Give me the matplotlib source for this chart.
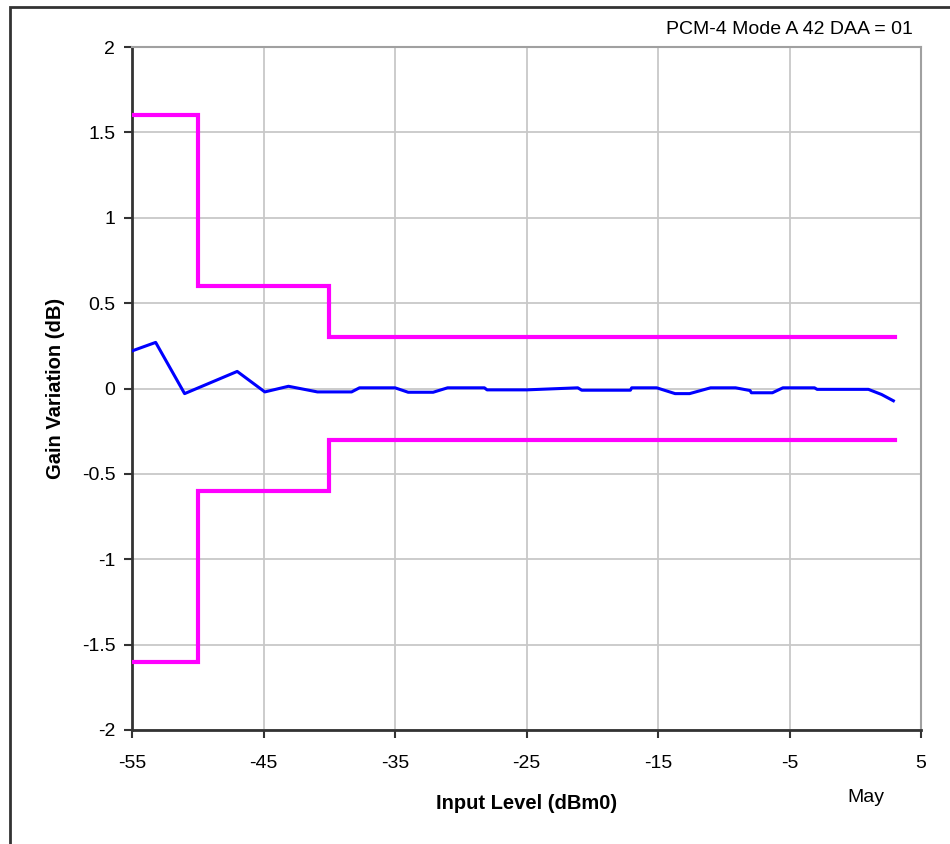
# Gain variation vs input level, PCM-4 Mode A 42 (DAA = 01)
import matplotlib
matplotlib.use("Agg")
import matplotlib.pyplot as plt
from matplotlib.patches import Rectangle

plt.rcParams["font.family"] = ["Liberation Sans", "DejaVu Sans"]

# --- data ---
level_db = [-55, -53.2, -51.0, -47.0, -44.9, -43.1, -40.9, -38.3, -37.7, -35.0,
            -34.0, -32.1, -31.0, -28.2, -28.0, -25.0, -21.1, -20.8, -17.1, -17.0,
            -15.1, -13.7, -12.6, -11.0, -9.1, -8.0, -7.9, -6.3, -5.5, -3.1,
            -2.9, 1.0, 2.0, 2.9]
gain_db = [0.22, 0.27, -0.03, 0.10, -0.02, 0.013, -0.02, -0.02, 0.004, 0.004,
           -0.022, -0.022, 0.004, 0.004, -0.008, -0.008, 0.004, -0.01, -0.01, 0.004,
           0.004, -0.03, -0.03, 0.004, 0.004, -0.012, -0.025, -0.025, 0.004, 0.004,
           -0.005, -0.005, -0.035, -0.072]

mask_x = [-55, -50, -50, -40, -40, 3]
mask_upper = [1.6, 1.6, 0.6, 0.6, 0.3, 0.3]
mask_lower = [-1.6, -1.6, -0.6, -0.6, -0.3, -0.3]

x_ticks = [-55, -45, -35, -25, -15, -5, 5]
y_ticks = [-2, -1.5, -1, -0.5, 0, 0.5, 1, 1.5, 2]
y_tick_labels = ["-2", "-1.5", "-1", "-0.5", "0", "0.5", "1", "1.5", "2"]

# --- figure ---
fig = plt.figure(figsize=(9.5, 8.44), dpi=100)
fig.patches.append(Rectangle((10 / 950, -0.1), 1.2, 1.1 - 7 / 844,
                             transform=fig.transFigure, fill=False,
                             edgecolor="#333333", linewidth=2))
ax = fig.add_axes([132 / 950, 1 - 730 / 844, 789 / 950, 683 / 844])

ax.plot(mask_x, mask_upper, color="#ff00ff", lw=3, solid_joinstyle="miter", zorder=3)
ax.plot(mask_x, mask_lower, color="#ff00ff", lw=3, solid_joinstyle="miter", zorder=3)
ax.plot(level_db, gain_db, color="#0000ff", lw=2.2, zorder=4)

ax.set_xlim(-55, 5)
ax.set_ylim(-2, 2)
ax.set_xticks(x_ticks)
ax.set_xticklabels([str(t) for t in x_ticks])
ax.set_yticks(y_ticks)
ax.set_yticklabels(y_tick_labels)
ax.tick_params(direction="out", length=6, width=1.5, color="#333333",
               labelsize=14, pad=6)
ax.tick_params(axis="x", pad=12)
ax.grid(True, color="#c8c8c8", lw=1.3)
ax.set_axisbelow(True)

for side in ("left", "bottom"):
    ax.spines[side].set_color("#333333")
    ax.spines[side].set_linewidth(2)
for side in ("top", "right"):
    ax.spines[side].set_color("#a0a0a0")
    ax.spines[side].set_linewidth(1.5)

ax.set_xlabel("Input Level (dBm0)", fontsize=14.5, fontweight="bold", labelpad=16)
ax.set_ylabel("Gain Variation (dB)", fontsize=14.5, fontweight="bold", labelpad=12)

fig.text(913 / 950, 1 - 30 / 844, "PCM-4 Mode A 42 DAA = 01", ha="right",
         va="center", fontsize=14)
fig.text(866 / 950, 1 - 797 / 844, "May", ha="center", va="center", fontsize=14)

fig.savefig("out.png", dpi=100)
